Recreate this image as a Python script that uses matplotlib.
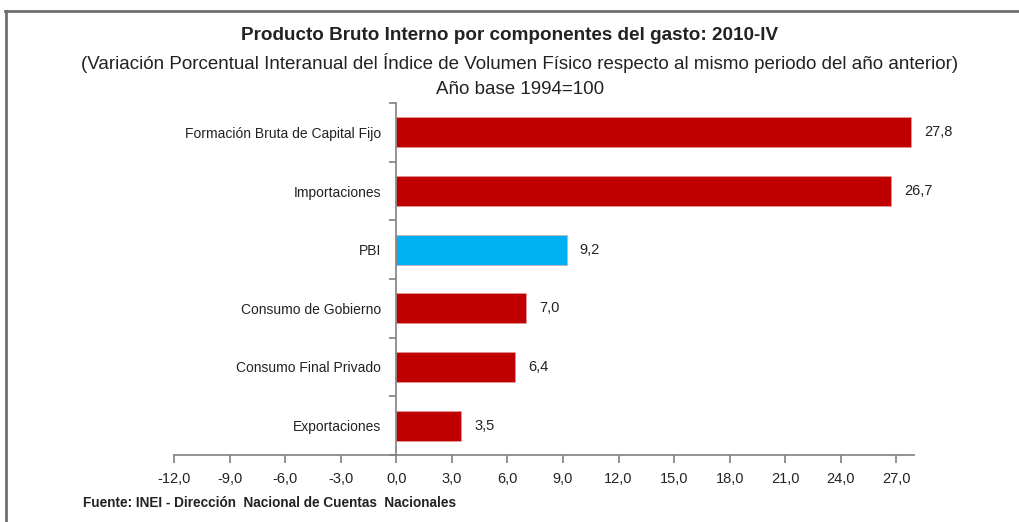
import matplotlib
matplotlib.use("Agg")
import matplotlib.pyplot as plt
from matplotlib.lines import Line2D
import numpy as np

categories = ["Formación Bruta de Capital Fijo", "Importaciones", "PBI",
              "Consumo de Gobierno", "Consumo Final Privado", "Exportaciones"]
values = [27.8, 26.7, 9.2, 7.0, 6.4, 3.5]
colors = ["#C00000", "#C00000", "#00B0F0", "#C00000", "#C00000", "#C00000"]
xticks = [-12, -9, -6, -3, 0, 3, 6, 9, 12, 15, 18, 21, 24, 27]

FAM = ["Liberation Sans", "DejaVu Sans"]
plt.rcParams['font.family'] = FAM

fig = plt.figure(figsize=(10.19, 5.22), dpi=100)
ax = fig.add_axes([174/1019, 1-455/522, (914-174)/1019, (455-103)/522])

n = len(categories)
ypos = np.arange(n)
ax.barh(ypos, values, height=0.51, color=colors, edgecolor="#e8a0a0", linewidth=0.4)
ax.set_ylim(n-0.5, -0.5)
ax.set_xlim(-12, 27.95)

for y, v in zip(ypos, values):
    ax.text(v + 0.7, y, f"{v:.1f}".replace(".", ","), va="center", ha="left",
            fontsize=10.5, color="#222222")

gray = "#808080"
for s in ["top", "right"]:
    ax.spines[s].set_visible(False)
ax.spines["left"].set_position(("data", 0))
ax.spines["left"].set_color(gray)
ax.spines["bottom"].set_color(gray)
ax.spines["left"].set_linewidth(1.2)
ax.spines["bottom"].set_linewidth(1.2)

ax.set_xticks(xticks)
ax.set_xticklabels([f"{t:.1f}".replace(".", ",") for t in xticks])
ax.tick_params(axis="x", direction="out", length=6, width=1.2, color=gray,
               labelsize=10.5, labelcolor="#222222", pad=6)

ax.set_yticks(ypos)
ax.set_yticklabels(categories)
ax.tick_params(axis="y", which="major", length=0, labelsize=10, labelcolor="#222222", pad=11)
ax.set_yticks(np.arange(-0.5, n, 1), minor=True)
ax.tick_params(axis="y", which="minor", direction="out", length=5, width=1.2, color=gray)

fig.text(510/1019, 1-35/522, "Producto Bruto Interno por componentes del gasto: 2010-IV",
         ha="center", va="center", fontsize=13.6, fontweight="bold", color="#222222")
fig.text(520/1019, 1-63/522,
         "(Variación Porcentual Interanual del Índice de Volumen Físico respecto al mismo periodo del año anterior)",
         ha="center", va="center", fontsize=13.5, color="#222222")
fig.text(520/1019, 1-90/522, "Año base 1994=100",
         ha="center", va="center", fontsize=13.5, color="#222222")
fig.text(83/1019, 1-503/522, "Fuente: INEI - Dirección  Nacional de Cuentas  Nacionales",
         ha="left", va="center", fontsize=9.8, fontweight="bold", color="#222222")

# figure border (top and left)
fig.add_artist(Line2D([5/1019, 1], [1-11/522, 1-11/522], transform=fig.transFigure,
                      color="#707070", linewidth=2))
fig.add_artist(Line2D([6/1019, 6/1019], [0, 1-11/522], transform=fig.transFigure,
                      color="#707070", linewidth=2))

fig.savefig("out.png", dpi=100)
